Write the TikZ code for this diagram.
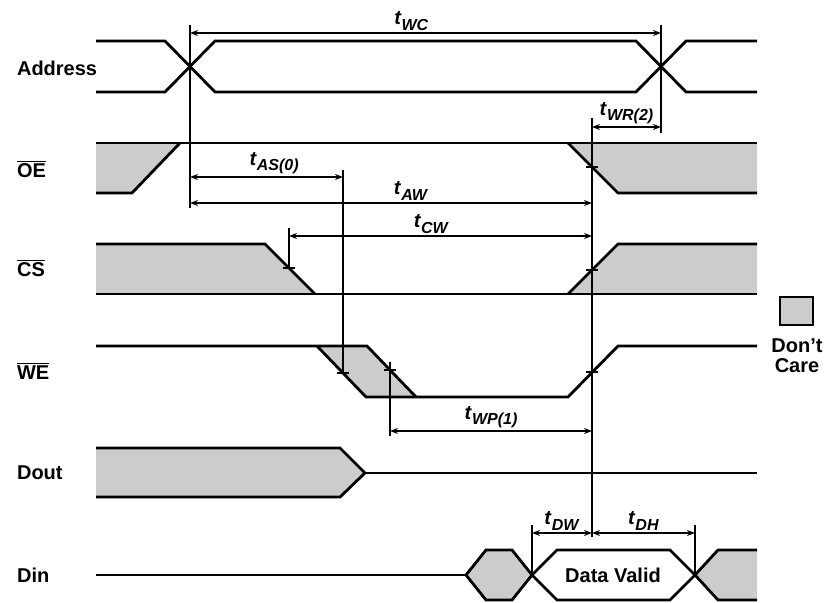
\documentclass[tikz,border=0pt]{standalone}
\usepackage{fontspec}
\setmainfont{Liberation Sans}
\usetikzlibrary{arrows.meta}

\newcommand{\tlab}[1]{\textbf{\textit{t}}\raisebox{-0.5ex}{\footnotesize\textbf{\textit{#1}}}}
\newcommand{\ovl}[1]{$\overline{\hbox{#1}}$}

\begin{document}
\begin{tikzpicture}[x=0.5pt,y=-0.5pt,
    sig/.style={line width=1.4pt, line join=miter},
    dc/.style={fill=black!20},
    ref/.style={line width=0.9pt},
    dim/.style={line width=0.8pt, {Stealth[length=4pt,width=3pt]}-{Stealth[length=4pt,width=3pt]}},
    lab/.style={font=\bfseries, anchor=west},
    tl/.style={above, inner sep=1pt}]
  \useasboundingbox (0,0) rectangle (824,603);

  % signal names
  \node[lab] (addr) at (10,68) {Address};
  \node[lab] (oe) at (10,169) {\ovl{OE}};
  \node[lab] (cs) at (10,268) {\ovl{CS}};
  \node[lab] (we) at (10,371) {\ovl{WE}};
  \node[lab] (dout) at (10,473) {Dout};
  \node[lab] (din) at (10,575) {Din};

  % address
  \draw[sig] (96,41) -- (165,41) -- (215,92) -- (636,92) -- (686,41) -- (757,41);
  \draw[sig] (96,92) -- (165,92) -- (215,41) -- (636,41) -- (686,92) -- (757,92);

  % output enable
  \fill[dc] (96,143) -- (180,143) -- (132,193) -- (96,193) -- cycle;
  \fill[dc] (568,143) -- (757,143) -- (757,193) -- (618,193) -- cycle;
  \draw[sig] (96,143) -- (757,143);
  \draw[sig] (96,193) -- (132,193) -- (180,143);
  \draw[sig] (568,143) -- (618,193) -- (757,193);

  % chip select
  \fill[dc] (96,244) -- (265,244) -- (315,294) -- (96,294) -- cycle;
  \fill[dc] (568,294) -- (618,244) -- (757,244) -- (757,294) -- cycle;
  \draw[sig] (96,244) -- (265,244) -- (315,294);
  \draw[sig] (96,294) -- (757,294);
  \draw[sig] (568,294) -- (618,244) -- (757,244);

  % write enable
  \fill[dc] (317,346) -- (367,346) -- (416,397) -- (366,397) -- cycle;
  \draw[sig] (96,346) -- (367,346) -- (416,397);
  \draw[sig] (317,346) -- (366,397) -- (568,397) -- (618,346) -- (757,346);

  % data out
  \fill[dc] (96,448) -- (340,448) -- (365,473) -- (340,497) -- (96,497) -- cycle;
  \draw[sig] (96,448) -- (340,448) -- (365,473) -- (340,497) -- (96,497);
  \draw[sig] (365,473) -- (757,473);

  % data in
  \draw[sig] (96,575) -- (466,575);
  \filldraw[sig, dc] (466,575) -- (486,550) -- (512,550) -- (532,575) -- (512,600) -- (486,600) -- cycle;
  \draw[sig] (532,575) -- (557,550) -- (670,550) -- (695,575) -- (670,600) -- (557,600) -- cycle;
  \node[font=\bfseries] (valid) at (613,575) {Data Valid};
  \fill[dc] (695,575) -- (718,550) -- (757,550) -- (757,600) -- (718,600) -- cycle;
  \draw[sig] (757,550) -- (718,550) -- (695,575) -- (718,600) -- (757,600);

  % reference lines
  \draw[ref] (190,25) -- (190,208);
  \draw[ref] (661,25) -- (661,133);
  \draw[ref] (592,118) -- (592,537);
  \draw[ref] (343,170) -- (343,373);
  \draw[ref] (289,228) -- (289,268);
  \draw[ref] (390,362) -- (390,436);
  \draw[ref] (532,525) -- (532,575);
  \draw[ref] (695,525) -- (695,575);
  \foreach \x/\y in {592/167, 289/268, 592/270, 343/373, 390/370, 592/372}
    \draw[ref] (\x,\y) ++(-6,0) -- ++(12,0); % crossing ticks

  % timing arrows
  \coordinate (wc1) at (190,33);  \coordinate (wc2) at (661,33);
  \coordinate (wr1) at (592,127); \coordinate (wr2) at (661,127);
  \coordinate (as1) at (190,177); \coordinate (as2) at (343,177);
  \coordinate (aw1) at (190,203); \coordinate (aw2) at (592,203);
  \coordinate (cw1) at (289,236); \coordinate (cw2) at (592,236);
  \coordinate (wp1) at (390,431); \coordinate (wp2) at (592,431);
  \coordinate (dw1) at (532,533); \coordinate (dw2) at (592,533);
  \coordinate (dh1) at (592,533); \coordinate (dh2) at (695,533);
  \draw[dim] (wc1) -- node[tl, pos=0.47] {\tlab{WC}} (wc2);
  \draw[dim] (wr1) -- node[tl] {\tlab{WR(2)}} (wr2);
  \draw[dim] (as1) -- node[tl, pos=0.55] {\tlab{AS(0)}} (as2);
  \draw[dim] (aw1) -- node[tl, pos=0.55] {\tlab{AW}} (aw2);
  \draw[dim] (cw1) -- node[tl, pos=0.47] {\tlab{CW}} (cw2);
  \draw[dim] (wp1) -- node[tl] {\tlab{WP(1)}} (wp2);
  \draw[dim] (dw1) -- node[tl] {\tlab{DW}} (dw2);
  \draw[dim] (dh1) -- node[tl] {\tlab{DH}} (dh2);

  % legend
  \filldraw[sig, dc] (780,297) rectangle (813,325);
  \node[font=\bfseries, align=center] (care) at (797,356) {Don't\\[-2pt]Care};
\end{tikzpicture}
\end{document}
